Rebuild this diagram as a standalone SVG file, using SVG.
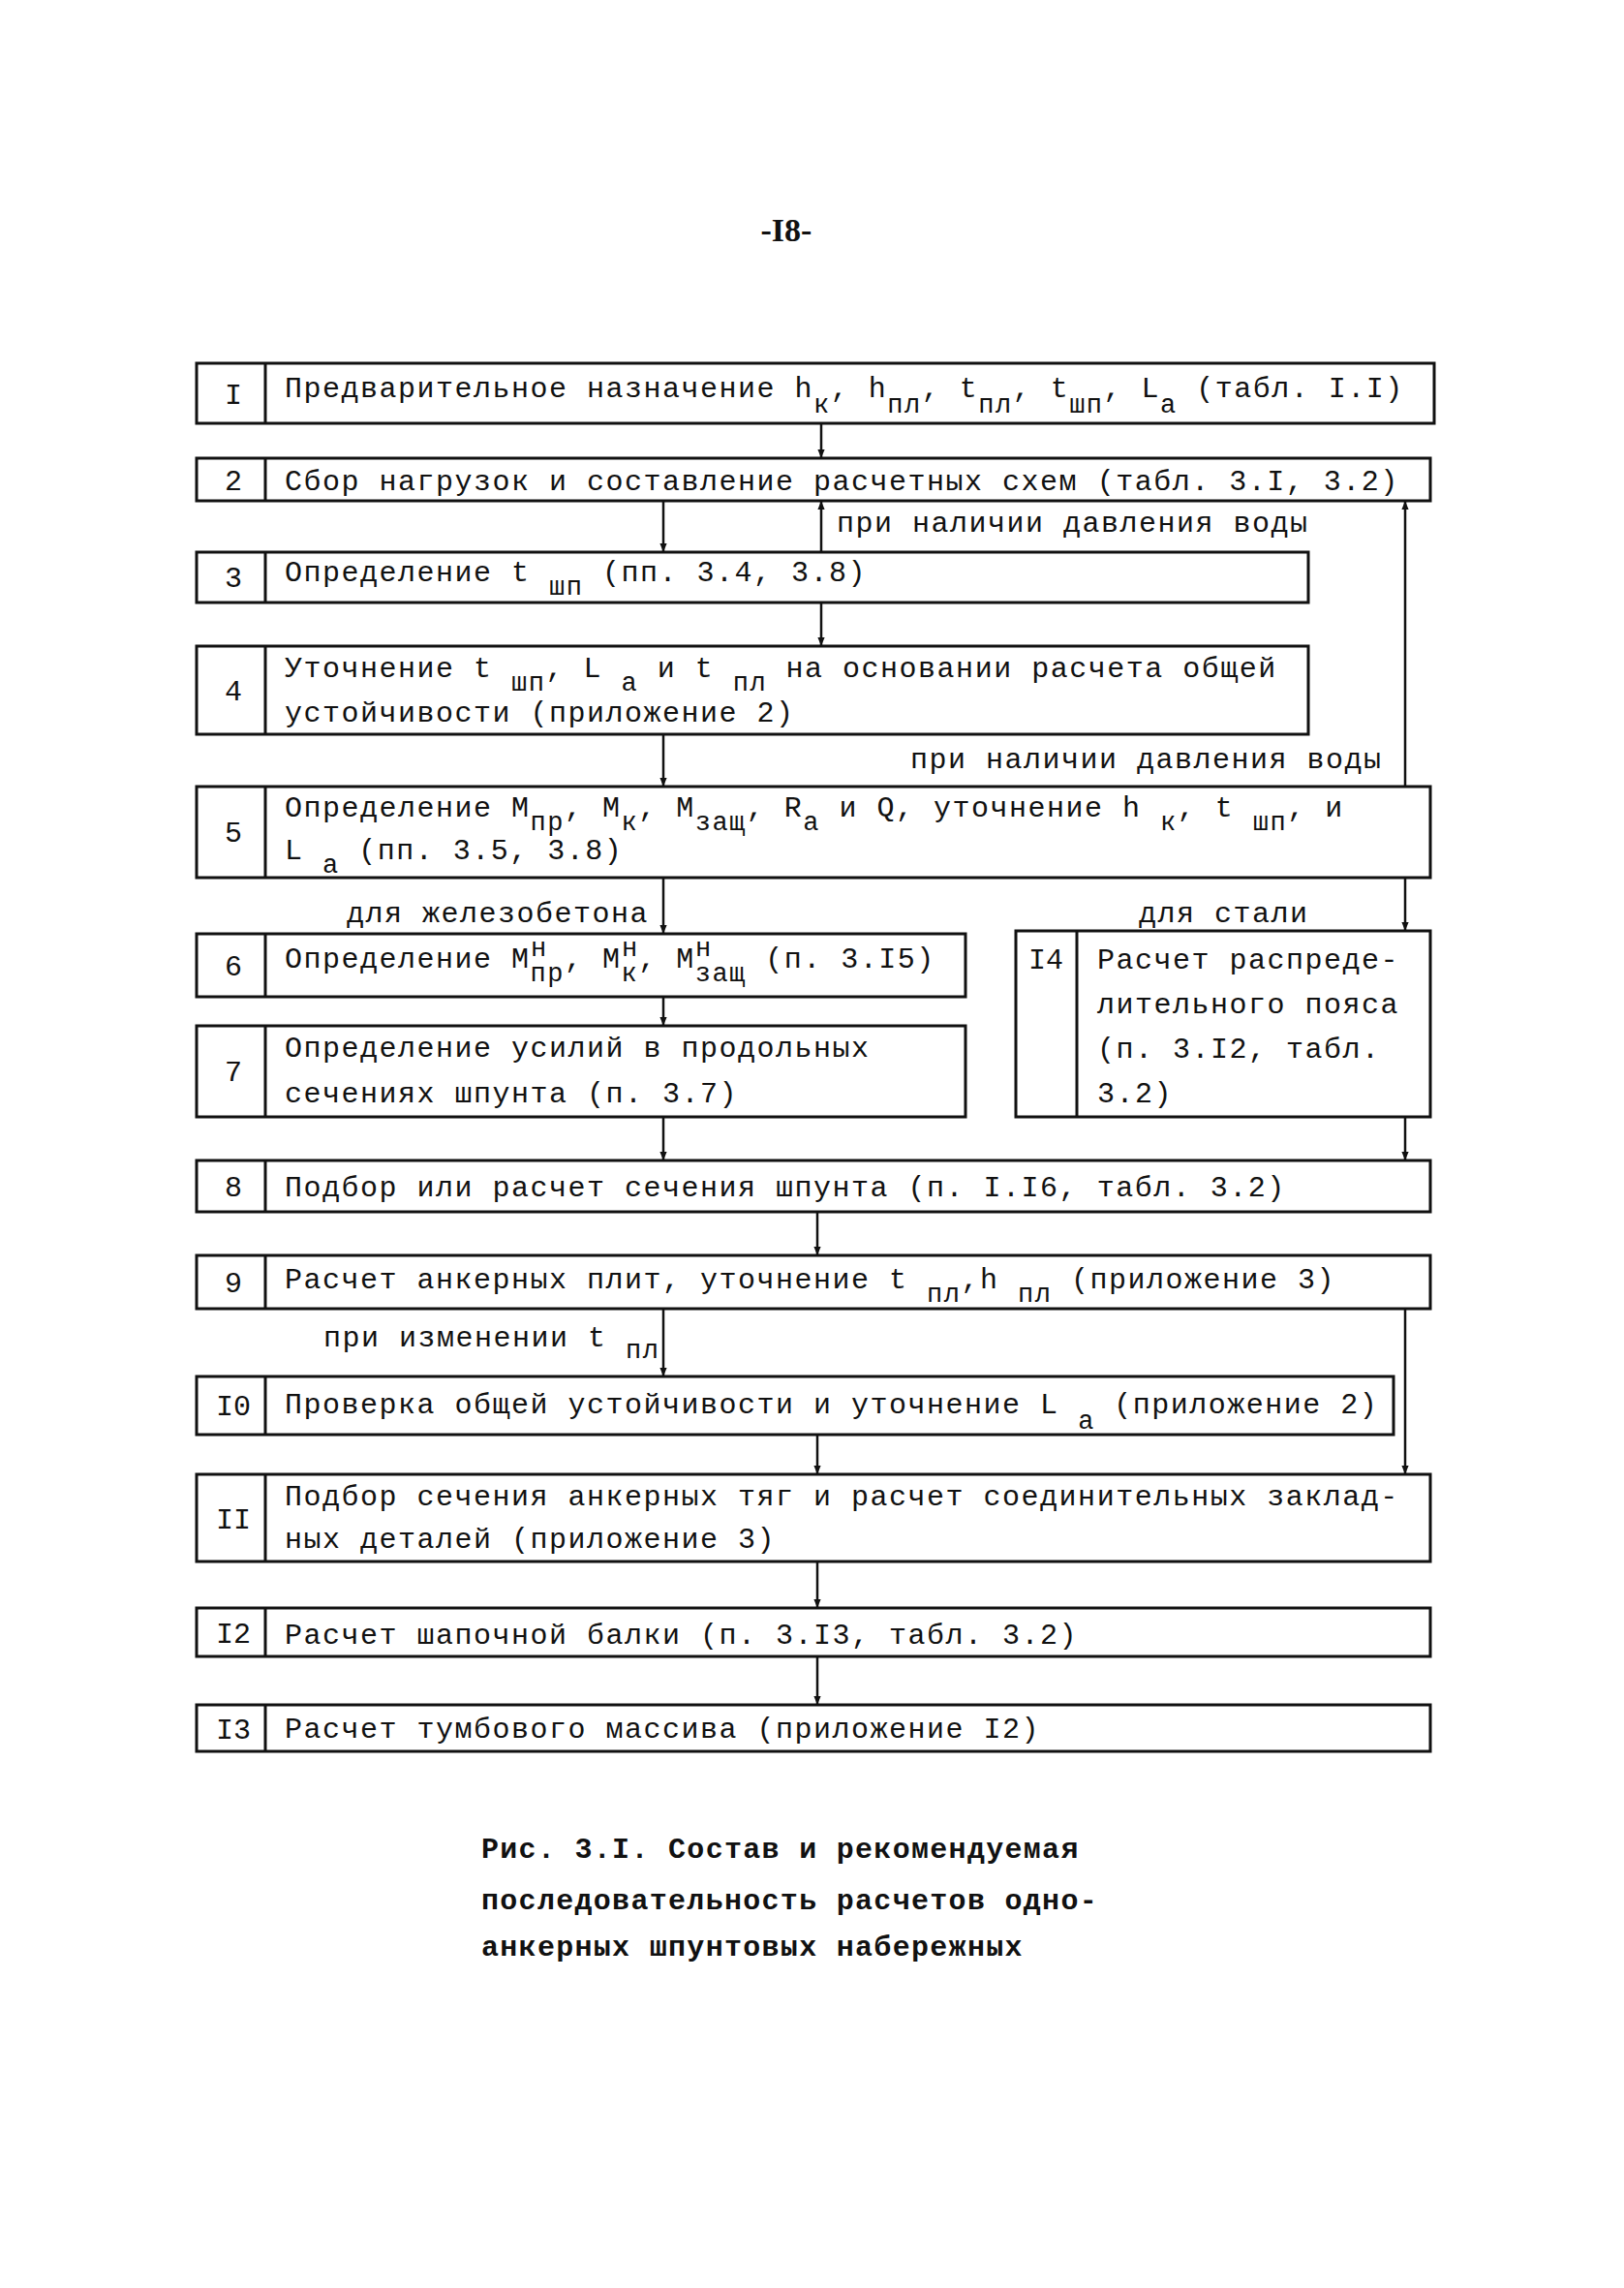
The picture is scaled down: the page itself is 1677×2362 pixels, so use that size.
<svg xmlns="http://www.w3.org/2000/svg" width="1677" height="2362" viewBox="0 0 1677 2362">
<defs>
<style>
.b{fill:none;stroke:#111;stroke-width:3}
.c{fill:none;stroke:#111;stroke-width:2.5}
.t{font-family:"Liberation Mono","DejaVu Sans Mono",monospace;font-size:30px;letter-spacing:1.5px;fill:#111}
.n{font-family:"Liberation Mono","DejaVu Sans Mono",monospace;font-size:30px;fill:#111;text-anchor:middle}
.s{font-size:27px}
.cap{font-family:"Liberation Mono","DejaVu Sans Mono",monospace;font-size:30px;letter-spacing:1.3px;fill:#111;font-weight:bold}
</style>
<marker id="ah" viewBox="0 0 10 10" refX="10" refY="5" markerWidth="9" markerHeight="12" markerUnits="userSpaceOnUse" orient="auto">
<path d="M0,1 L10,5 L0,9 z" fill="#111"/>
</marker>
</defs>
<rect width="1677" height="2362" fill="#fff"/>
<text x="812" y="249" font-family="Liberation Serif,serif" font-size="34" font-weight="bold" text-anchor="middle" fill="#111">-I8-</text>

<g id="n1"><rect class="b" x="203" y="375" width="1278" height="62"/><line class="b" x1="274" y1="375" x2="274" y2="437"/><text class="n" x="241" y="417">I</text>
<text class="t" x="294" y="410">Предварительное назначение h<tspan class="s" dy="16">к</tspan><tspan dy="-16">, h</tspan><tspan class="s" dy="16">пл</tspan><tspan dy="-16">, t</tspan><tspan class="s" dy="16">пл</tspan><tspan dy="-16">, t</tspan><tspan class="s" dy="16">шп</tspan><tspan dy="-16">, L</tspan><tspan class="s" dy="16">а</tspan><tspan dy="-16"> (табл. I.I)</tspan></text></g>

<g id="n2"><rect class="b" x="203" y="473" width="1274" height="44"/><line class="b" x1="274" y1="473" x2="274" y2="517"/><text class="n" x="241" y="506">2</text>
<text class="t" x="294" y="506">Сбор нагрузок и составление расчетных схем (табл. 3.I, 3.2)</text></g>

<g id="n3"><rect class="b" x="203" y="570" width="1148" height="52"/><line class="b" x1="274" y1="570" x2="274" y2="622"/><text class="n" x="241" y="606">3</text>
<text class="t" x="294" y="600">Определение  t <tspan class="s" dy="14">шп</tspan><tspan dy="-14"> (пп. 3.4, 3.8)</tspan></text></g>

<g id="n4"><rect class="b" x="203" y="667" width="1148" height="91"/><line class="b" x1="274" y1="667" x2="274" y2="758"/><text class="n" x="241" y="723">4</text>
<text class="t" x="294" y="699">Уточнение t <tspan class="s" dy="14">шп</tspan><tspan dy="-14">, L </tspan><tspan class="s" dy="14">а</tspan><tspan dy="-14"> и t </tspan><tspan class="s" dy="14">пл</tspan><tspan dy="-14"> на основании расчета общей</tspan></text>
<text class="t" x="294" y="745">устойчивости (приложение 2)</text></g>

<g id="n5"><rect class="b" x="203" y="812" width="1274" height="94"/><line class="b" x1="274" y1="812" x2="274" y2="906"/><text class="n" x="241" y="869">5</text>
<text class="t" x="294" y="843">Определение M<tspan class="s" dy="14">пр</tspan><tspan dy="-14">, M</tspan><tspan class="s" dy="14">к</tspan><tspan dy="-14">, M</tspan><tspan class="s" dy="14">защ</tspan><tspan dy="-14">, R</tspan><tspan class="s" dy="14">а</tspan><tspan dy="-14"> и Q, уточнение h </tspan><tspan class="s" dy="14">к</tspan><tspan dy="-14">, t </tspan><tspan class="s" dy="14">шп</tspan><tspan dy="-14">, и</tspan></text>
<text class="t" x="294" y="887">L <tspan class="s" dy="14">а</tspan><tspan dy="-14"> (пп. 3.5, 3.8)</tspan></text></g>

<g id="n6"><rect class="b" x="203" y="964" width="794" height="65"/><line class="b" x1="274" y1="964" x2="274" y2="1029"/><text class="n" x="241" y="1007">6</text>
<text class="t" x="294" y="999">Определение M<tspan class="s" dy="14">пр</tspan><tspan dy="-14">, M</tspan><tspan class="s" dy="14">к</tspan><tspan dy="-14">, M</tspan><tspan class="s" dy="14">защ</tspan><tspan dy="-14"> (п. 3.I5)</tspan></text>
<text class="t s" x="548" y="987">н</text><text class="t s" x="642" y="987">н</text><text class="t s" x="718" y="987">н</text></g>

<g id="n7"><rect class="b" x="203" y="1059" width="794" height="94"/><line class="b" x1="274" y1="1059" x2="274" y2="1153"/><text class="n" x="241" y="1116">7</text>
<text class="t" x="294" y="1091">Определение усилий в продольных</text>
<text class="t" x="294" y="1138">сечениях шпунта (п. 3.7)</text></g>

<g id="n14"><rect class="b" x="1049" y="961" width="428" height="192"/><line class="b" x1="1112" y1="961" x2="1112" y2="1153"/><text class="n" x="1080" y="1000">I4</text>
<text class="t" x="1133" y="1000">Расчет распреде-</text>
<text class="t" x="1133" y="1046">лительного пояса</text>
<text class="t" x="1133" y="1092">(п. 3.I2, табл.</text>
<text class="t" x="1133" y="1138">3.2)</text></g>

<g id="n8"><rect class="b" x="203" y="1198" width="1274" height="53"/><line class="b" x1="274" y1="1198" x2="274" y2="1251"/><text class="n" x="241" y="1235">8</text>
<text class="t" x="294" y="1235">Подбор или расчет сечения шпунта (п. I.I6, табл. 3.2)</text></g>

<g id="n9"><rect class="b" x="203" y="1296" width="1274" height="55"/><line class="b" x1="274" y1="1296" x2="274" y2="1351"/><text class="n" x="241" y="1334">9</text>
<text class="t" x="294" y="1330">Расчет анкерных плит, уточнение t <tspan class="s" dy="14">пл</tspan><tspan dy="-14">,h </tspan><tspan class="s" dy="14">пл</tspan><tspan dy="-14"> (приложение 3)</tspan></text></g>

<g id="n10"><rect class="b" x="203" y="1421" width="1236" height="60"/><line class="b" x1="274" y1="1421" x2="274" y2="1481"/><text class="n" x="241" y="1461">I0</text>
<text class="t" x="294" y="1459">Проверка общей устойчивости и уточнение L <tspan class="s" dy="16">а</tspan><tspan dy="-16"> (приложение 2)</tspan></text></g>

<g id="n11"><rect class="b" x="203" y="1522" width="1274" height="90"/><line class="b" x1="274" y1="1522" x2="274" y2="1612"/><text class="n" x="241" y="1578">II</text>
<text class="t" x="294" y="1554">Подбор сечения анкерных тяг и расчет соединительных заклад-</text>
<text class="t" x="294" y="1598">ных деталей (приложение 3)</text></g>

<g id="n12"><rect class="b" x="203" y="1660" width="1274" height="50"/><line class="b" x1="274" y1="1660" x2="274" y2="1710"/><text class="n" x="241" y="1696">I2</text>
<text class="t" x="294" y="1697">Расчет шапочной балки (п. 3.I3, табл. 3.2)</text></g>

<g id="n13"><rect class="b" x="203" y="1760" width="1274" height="48"/><line class="b" x1="274" y1="1760" x2="274" y2="1808"/><text class="n" x="241" y="1795">I3</text>
<text class="t" x="294" y="1794">Расчет тумбового массива (приложение I2)</text></g>

<g id="connectors">
<line class="c" x1="848" y1="437" x2="848" y2="473" marker-end="url(#ah)"/>
<line class="c" x1="685" y1="517" x2="685" y2="570" marker-end="url(#ah)"/>
<line class="c" x1="848" y1="570" x2="848" y2="517" marker-end="url(#ah)"/>
<line class="c" x1="1451" y1="812" x2="1451" y2="517" marker-end="url(#ah)"/>
<line class="c" x1="848" y1="622" x2="848" y2="667" marker-end="url(#ah)"/>
<line class="c" x1="685" y1="758" x2="685" y2="812" marker-end="url(#ah)"/>
<line class="c" x1="685" y1="906" x2="685" y2="964" marker-end="url(#ah)"/>
<line class="c" x1="1451" y1="906" x2="1451" y2="961" marker-end="url(#ah)"/>
<line class="c" x1="685" y1="1029" x2="685" y2="1059" marker-end="url(#ah)"/>
<line class="c" x1="685" y1="1153" x2="685" y2="1198" marker-end="url(#ah)"/>
<line class="c" x1="1451" y1="1153" x2="1451" y2="1198" marker-end="url(#ah)"/>
<line class="c" x1="844" y1="1251" x2="844" y2="1296" marker-end="url(#ah)"/>
<line class="c" x1="685" y1="1351" x2="685" y2="1421" marker-end="url(#ah)"/>
<line class="c" x1="1451" y1="1351" x2="1451" y2="1522" marker-end="url(#ah)"/>
<line class="c" x1="844" y1="1481" x2="844" y2="1522" marker-end="url(#ah)"/>
<line class="c" x1="844" y1="1612" x2="844" y2="1660" marker-end="url(#ah)"/>
<line class="c" x1="844" y1="1710" x2="844" y2="1760" marker-end="url(#ah)"/>
<text class="t" x="864" y="549">при наличии давления воды</text>
<text class="t" x="940" y="793">при наличии давления воды</text>
<text class="t" x="358" y="952">для железобетона</text>
<text class="t" x="1176" y="952">для стали</text>
<text class="t" x="334" y="1390">при изменении t <tspan class="s" dy="12">пл</tspan></text>
</g>

<text class="cap" x="497" y="1918">Рис. 3.I. Состав и рекомендуемая</text>
<text class="cap" x="497" y="1971">последовательность расчетов одно-</text>
<text class="cap" x="497" y="2019">анкерных шпунтовых набережных</text>
</svg>
